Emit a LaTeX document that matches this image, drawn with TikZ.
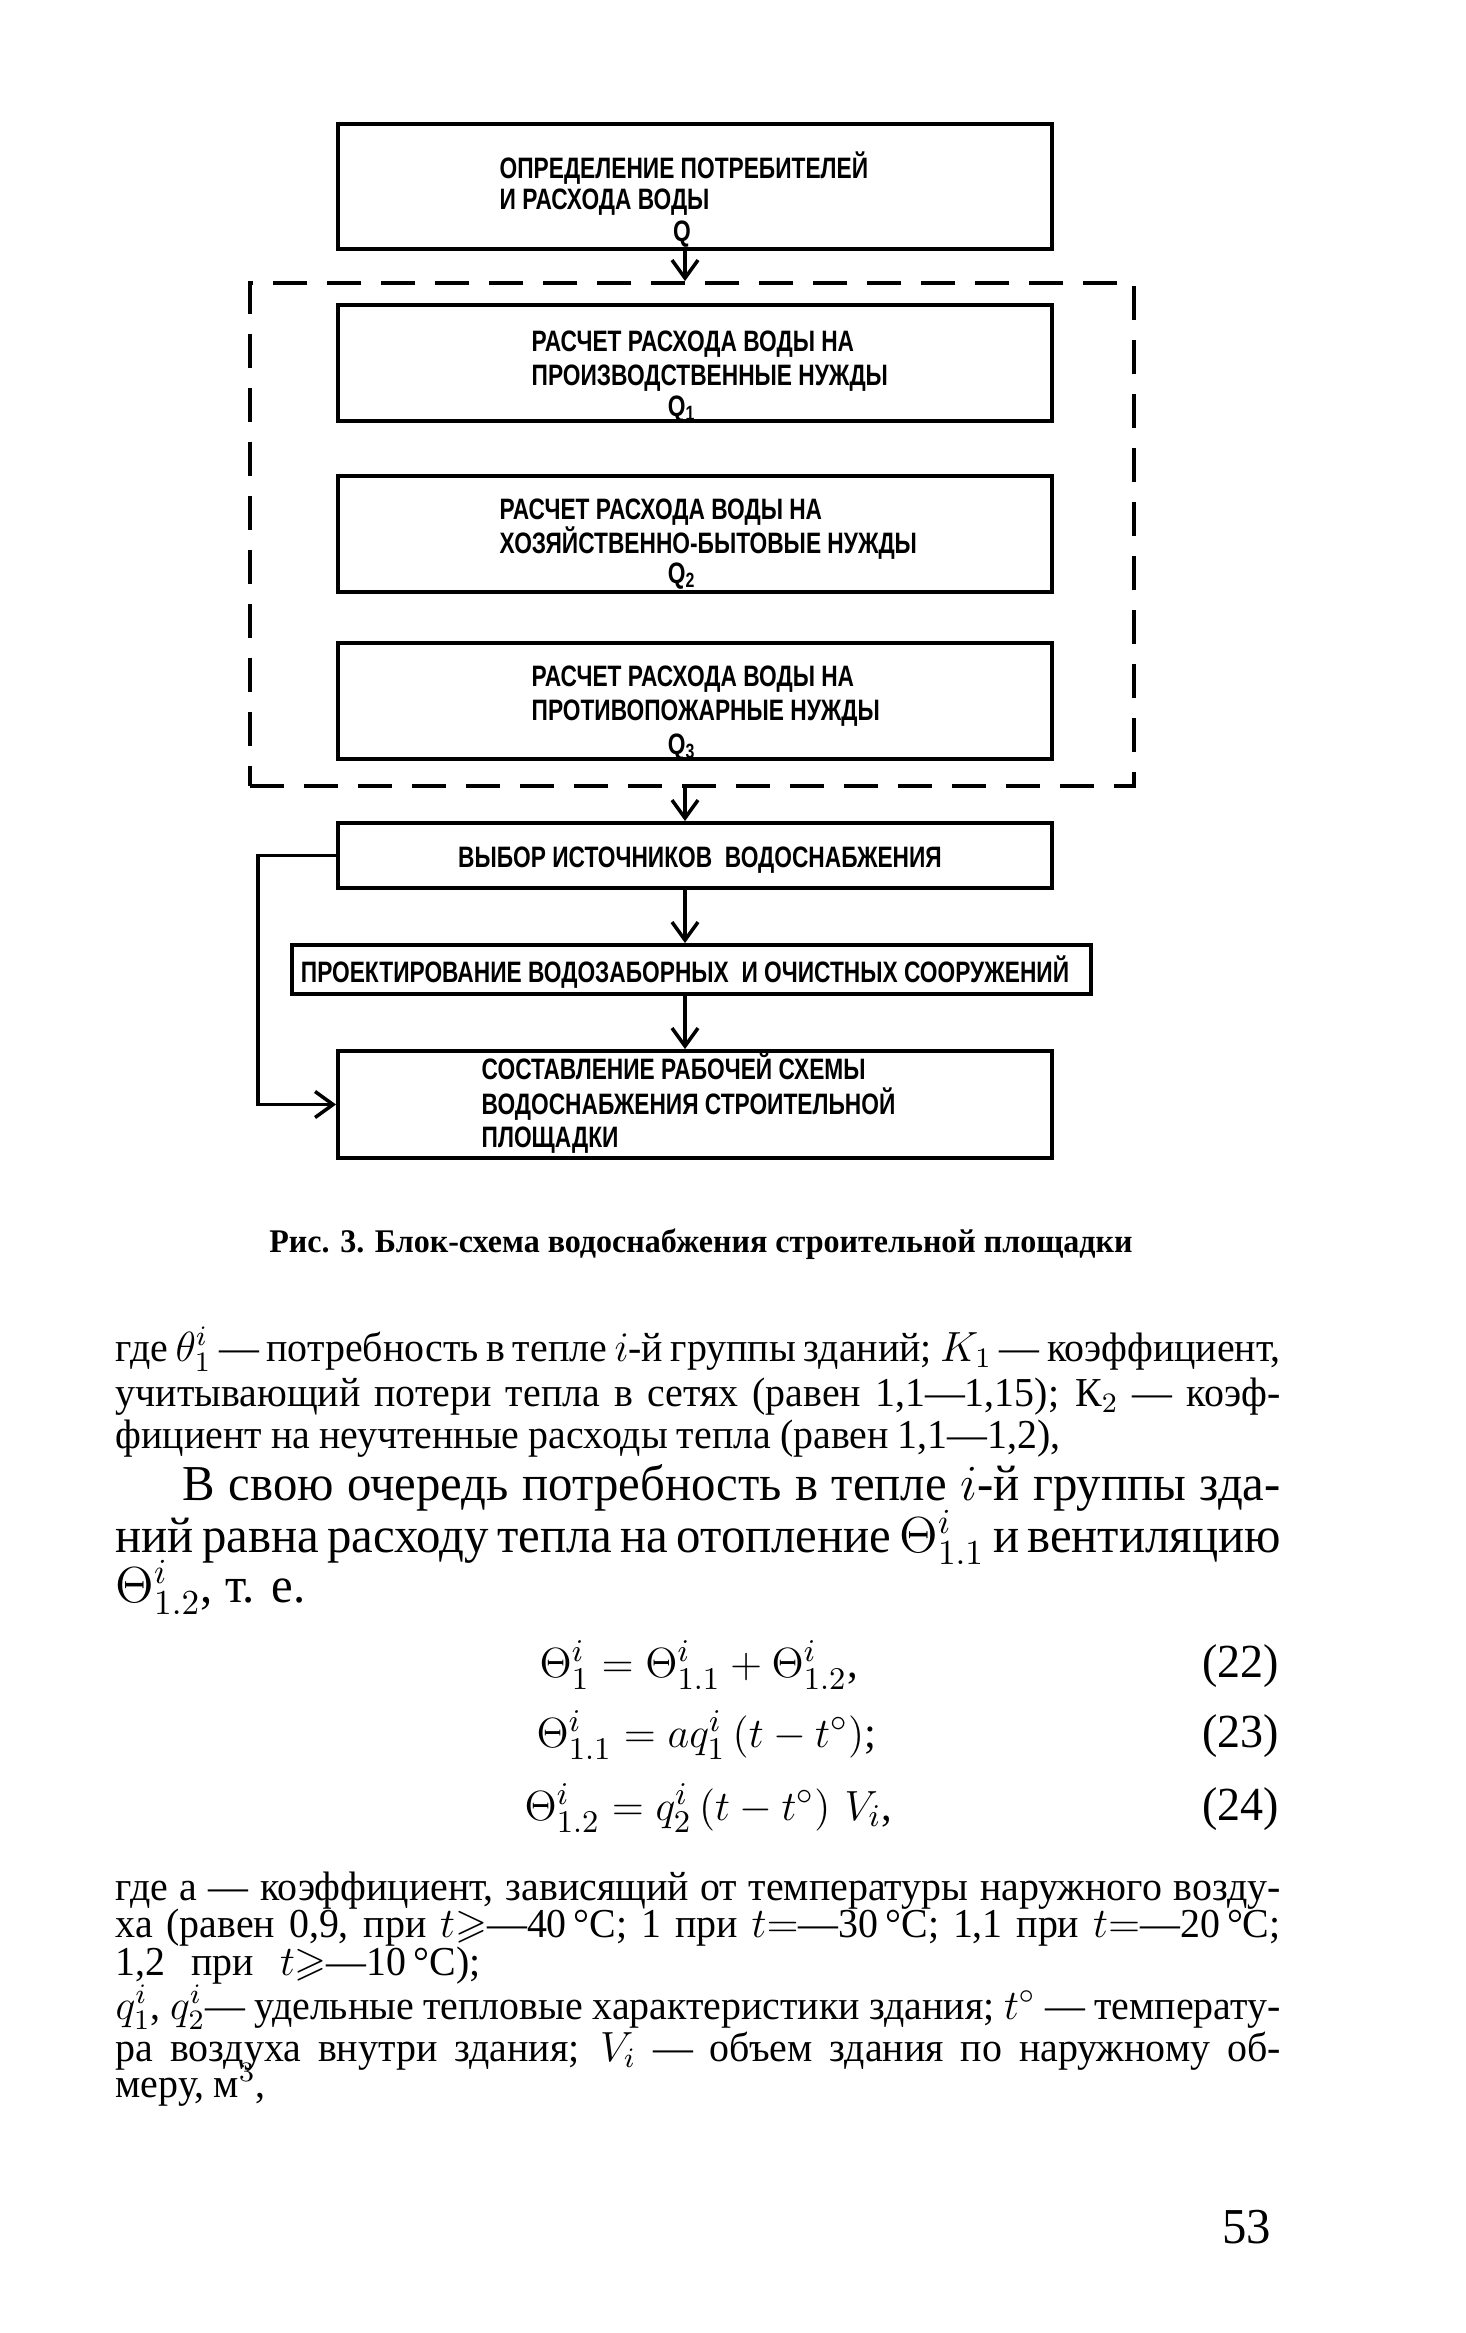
\documentclass[tikz,border=0pt]{standalone}
\usepackage{amsmath,amssymb}
\usepackage{fontspec}
\setmainfont{Liberation Serif}
\newfontfamily\bodyfont[FakeStretch=0.97]{Liberation Serif}
\newfontfamily\capsfont[FakeStretch=0.77]{Liberation Sans}
\usetikzlibrary{arrows.meta}
\newcommand{\degC}{\kern2pt°C}
\tikzset{
  stage/.style={draw, line width=1.1pt, minimum width=7.14cm, inner sep=0pt},
  grp/.style={draw, line width=1.1pt, dash pattern=on 3.4mm off 2mm, inner sep=0pt},
  boxlbl/.style={font=\capsfont\bfseries\fontsize{8.4}{10}\selectfont, inner sep=0pt, anchor=base west},
  boxq/.style={boxlbl, anchor=base},
  flow/.style={-{Straight Barb[length=1.8mm,width=2.6mm,line width=1pt]}, line width=0.9pt},
  txt/.style={font=\bodyfont\fontsize{11.7}{13}\selectfont, inner sep=0pt, anchor=base west},
  bigtxt/.style={font=\bodyfont\fontsize{14.3}{16}\selectfont, inner sep=0pt, anchor=base west},
  eqn/.style={font=\bodyfont\fontsize{12.5}{15}\selectfont, inner sep=0pt, anchor=base west},
  eqno/.style={font=\bodyfont\fontsize{13.5}{15}\selectfont, inner sep=0pt, anchor=base east},
  capn/.style={font=\bodyfont\bfseries\fontsize{9.4}{11}\selectfont, inner sep=0pt, anchor=base},
}
\begin{document}
\begin{tikzpicture}[x=0.1mm, y=-0.1mm]
\useasboundingbox (0,0) rectangle (1466,2333);
% block scheme
\node[stage, minimum height=1.25cm] (b1) at (695,186.5) {};
\node[grp, minimum width=8.84cm, minimum height=5.03cm] (frame) at (692,534.5) {};
\node[stage, minimum height=1.16cm] (b2) at (695,363) {};
\node[stage, minimum height=1.16cm] (b3) at (695,534) {};
\node[stage, minimum height=1.16cm] (b4) at (695,701) {};
\node[stage, minimum height=0.65cm] (b5) at (695,855.5) {};
\node[stage, minimum width=7.99cm, minimum height=0.49cm] (b6) at (691.5,969.5) {};
\node[stage, minimum height=1.07cm] (b7) at (695,1104.5) {};
\node[boxlbl] (t1a) at (499,178) {ОПРЕДЕЛЕНИЕ ПОТРЕБИТЕЛЕЙ};
\node[boxlbl] (t1b) at (499,209) {И РАСХОДА ВОДЫ};
\node[boxq] (q0) at (682,241) {Q};
\node[boxlbl] (t2a) at (531,351) {РАСЧЕТ РАСХОДА ВОДЫ НА};
\node[boxlbl] (t2b) at (531,385) {ПРОИЗВОДСТВЕННЫЕ НУЖДЫ};
\node[boxq] (q1) at (682,416) {Q\textsubscript{1}};
\node[boxlbl] (t3a) at (499,519) {РАСЧЕТ РАСХОДА ВОДЫ НА};
\node[boxlbl] (t3b) at (499,553) {ХОЗЯЙСТВЕННО-БЫТОВЫЕ НУЖДЫ};
\node[boxq] (q2) at (682,583) {Q\textsubscript{2}};
\node[boxlbl] (t4a) at (531,686) {РАСЧЕТ РАСХОДА ВОДЫ НА};
\node[boxlbl] (t4b) at (531,720) {ПРОТИВОПОЖАРНЫЕ НУЖДЫ};
\node[boxq] (q3) at (682,754) {Q\textsubscript{3}};
\node[boxq] (t5) at (700,867) {ВЫБОР ИСТОЧНИКОВ \ ВОДОСНАБЖЕНИЯ};
\node[boxq] (t6) at (685,982) {ПРОЕКТИРОВАНИЕ ВОДОЗАБОРНЫХ \ И ОЧИСТНЫХ СООРУЖЕНИЙ};
\node[boxlbl] (t7a) at (481,1079) {СОСТАВЛЕНИЕ РАБОЧЕЙ СХЕМЫ};
\node[boxlbl] (t7b) at (481,1114) {ВОДОСНАБЖЕНИЯ СТРОИТЕЛЬНОЙ};
\node[boxlbl] (t7c) at (481,1147) {ПЛОЩАДКИ};
\coordinate (ax) at (685,0);
\draw[flow] (b1.south -| ax) -- (frame.north -| ax);
\draw[flow] (frame.south -| ax) -- (b5.north -| ax);
\draw[flow] (b5.south -| ax) -- (b6.north -| ax);
\draw[flow] (b6.south -| ax) -- (b7.north -| ax);
\draw[flow, line width=1pt] (b5.west) -- ++(-78,0) |- (b7.west);
% caption and page text
\node[capn] (capt) at (701,1252) {Рис. 3. Блок-схема водоснабжения строительной площадки};
\node[txt] (p1a) at (115,1361) {\makebox[11.65cm][s]{где $\theta_1^i$ — потребность в тепле $i$-й группы зданий; $K_1$ — коэффициент,}};
\node[txt] (p1b) at (115,1406) {\makebox[11.65cm][s]{учитывающий потери тепла в сетях (равен 1,1—1,15); К$_2$ — коэф-}};
\node[txt] (p1c) at (115,1448) {\makebox[9.45cm][s]{фициент на неучтенные расходы тепла (равен 1,1—1,2),}};
\node[bigtxt] (p2a) at (182,1500) {\makebox[10.98cm][s]{В свою очередь потребность в тепле $i$-й группы зда-}};
\node[bigtxt] (p2b) at (115,1552) {\makebox[11.65cm][s]{ний равна расходу тепла на отопление $\Theta_{1.1}^i$ и вентиляцию}};
\node[bigtxt] (p2c) at (115,1602) {$\Theta_{1.2}^i$, т. е.};
\node[eqn] (e22) at (539,1677) {$\Theta_1^i = \Theta_{1.1}^i + \Theta_{1.2}^i$,};
\node[eqn] (e23) at (536,1747) {$\Theta_{1.1}^i = aq_1^i\,(t - t^\circ)$;};
\node[eqn] (e24) at (524,1820) {$\Theta_{1.2}^i = q_2^i\left(t - t^\circ\right)\,V_i$,};
\node[eqno] (n22) at (1280,1677) {(22)};
\node[eqno] (n23) at (1280,1747) {(23)};
\node[eqno] (n24) at (1280,1820) {(24)};
\node[txt] (p3a) at (115,1900) {\makebox[11.65cm][s]{где а — коэффициент, зависящий от температуры наружного возду-}};
\node[txt] (p3b) at (115,1937) {\makebox[11.65cm][s]{ха (равен 0,9, при $t{\geqslant}$—40\degC; 1 при $t{=}$—30\degC; 1,1 при $t{=}$—20\degC;}};
\node[txt] (p3c) at (115,1975) {\makebox[3.65cm][s]{1,2 при $t{\geqslant}$—10\degC);}};
\node[txt] (p3d) at (115,2019) {\makebox[11.65cm][s]{$q_1^i$, $q_2^i$— удельные тепловые характеристики здания; $t^\circ$ — температу-}};
\node[txt] (p3e) at (115,2061) {\makebox[11.65cm][s]{ра воздуха внутри здания; $V_i$ — объем здания по наружному об-}};
\node[txt] (p3f) at (115,2097) {меру, м$^3$,};
\node[bigtxt, anchor=base east] (pg) at (1272,2243) {53};
\end{tikzpicture}
\end{document}
